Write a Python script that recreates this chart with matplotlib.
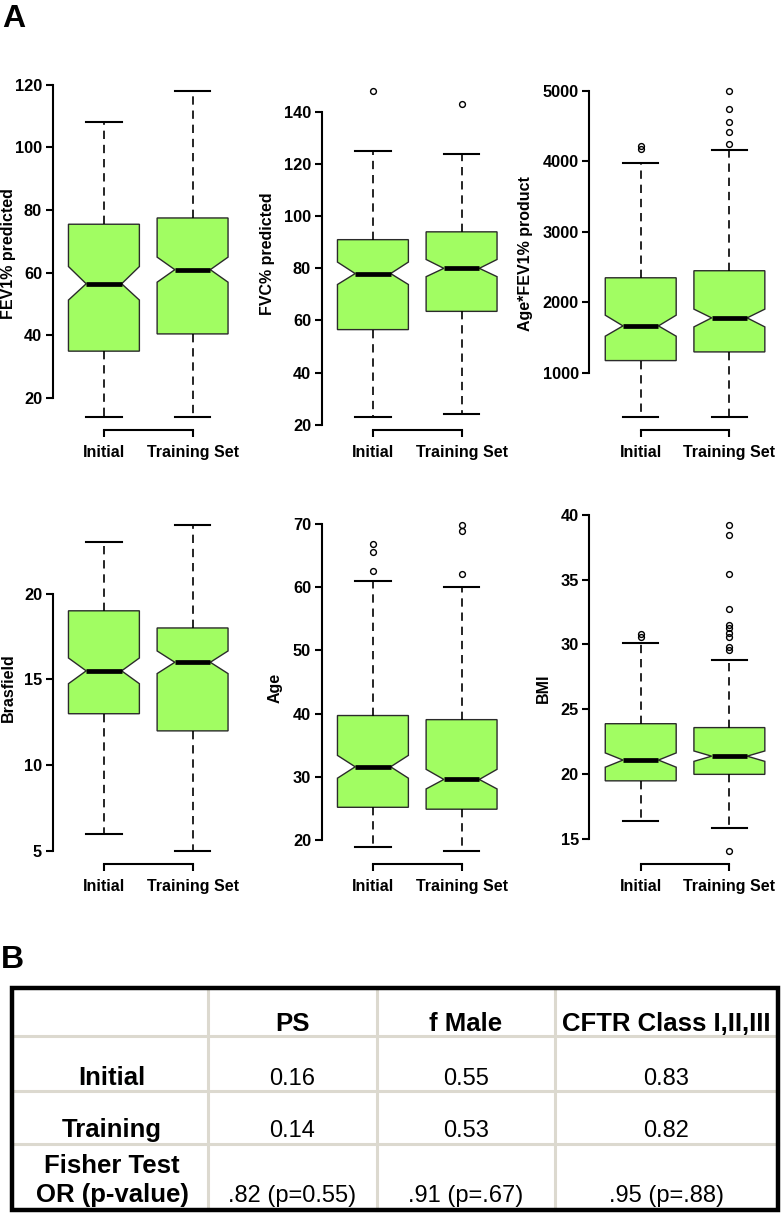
import matplotlib.pyplot as plt

plt.rcParams['font.family'] = ['Liberation Sans', 'DejaVu Sans']

# ---- panel A data ----
group_labels = ['Initial', 'Training Set']
ylabels = ['FEV1% predicted', 'FVC% predicted', 'Age*FEV1% product',
           'Brasfield', 'Age', 'BMI']
yticks = [[20, 40, 60, 80, 100, 120],
          [20, 40, 60, 80, 100, 120, 140],
          [1000, 2000, 3000, 4000, 5000],
          [5, 10, 15, 20],
          [20, 30, 40, 50, 60, 70],
          [15, 20, 25, 30, 35, 40]]

whislo = [[14, 14], [23, 24], [370, 370], [6, 5], [19, 18.3], [16.4, 15.9]]
q1 = [[35, 40.5], [56.5, 63.5], [1170, 1293], [13, 12], [25.2, 24.9], [19.5, 20.0]]
notch_lo = [[51.3, 57], [73.8, 76.8], [1516, 1648], [14.75, 15.34], [29.8, 28.1], [20.55, 21.0]]
med = [[56.5, 61], [78, 80], [1662, 1776], [15.5, 16], [31.6, 29.6], [21.1, 21.4]]
notch_hi = [[62, 65], [82.4, 83.4], [1814, 1900], [16.25, 16.66], [33.4, 31.2], [21.65, 21.8]]
q3 = [[75.5, 77.5], [91, 94], [2345, 2445], [19, 18], [39.7, 39.05], [23.9, 23.6]]
whishi = [[108, 118], [125, 124], [3980, 4160], [23, 24], [61, 60], [30.1, 28.8]]
fliers = [[[], []],
          [[148], [143]],
          [[4170, 4220], [4250, 4420, 4560, 4740, 4995]],
          [[], []],
          [[62.5, 65.6, 66.8], [62.1, 68.8, 69.8]],
          [[30.6, 30.8], [14.1, 29.6, 29.8, 30.6, 30.9, 31.3, 31.5, 32.7, 35.4, 38.4, 39.2]]]

# ---- panel B table ----
col_headers = ['PS', 'f Male', 'CFTR Class I,II,III']
row_labels = ['Initial', 'Training', 'Fisher Test\nOR (p-value)']
initial_vals = ['0.16', '0.55', '0.83']
training_vals = ['0.14', '0.53', '0.82']
fisher_vals = ['.82 (p=0.55)', '.91 (p=.67)', '.95 (p=.88)']

W, H = 782, 1213
fig = plt.figure(figsize=(W / 100, H / 100), dpi=100)

col_left = [52.5, 321.5, 589.3]
row_top = [78, 512]
ax_w, ax_h = 191.5, 352
ylab_off = [44, 54, 64, 44, 46, 46]
green = '#a1fd62'

for i in range(6):
    r, c = divmod(i, 3)
    ax = fig.add_axes([col_left[c] / W, 1 - (row_top[r] + ax_h) / H, ax_w / W, ax_h / H])
    stats = []
    for j in range(2):
        stats.append(dict(med=med[i][j], q1=q1[i][j], q3=q3[i][j],
                          whislo=whislo[i][j], whishi=whishi[i][j],
                          cilo=notch_lo[i][j], cihi=notch_hi[i][j],
                          fliers=fliers[i][j]))
    ax.bxp(stats, positions=[1, 2], widths=0.8, capwidths=0.4,
           shownotches=True, patch_artist=True,
           boxprops=dict(facecolor=green, edgecolor='#2b2b2b', linewidth=1.0),
           medianprops=dict(color='black', linewidth=3.4, solid_capstyle='butt'),
           whiskerprops=dict(color='black', linewidth=1.2, linestyle=(0, (5, 3.5))),
           capprops=dict(color='black', linewidth=1.5),
           flierprops=dict(marker='o', markerfacecolor='none', markeredgecolor='black',
                           markersize=4.2, markeredgewidth=1.0))

    allv = whislo[i] + whishi[i] + [v for f in fliers[i] for v in f]
    lo, hi = min(allv), max(allv)
    pad = 0.04 * (hi - lo)
    ax.set_ylim(lo - pad, hi + pad)
    ax.set_xlim(0.42, 2.58)

    for s in ['top', 'right']:
        ax.spines[s].set_visible(False)
    ax.spines['left'].set_bounds(yticks[i][0], yticks[i][-1])
    ax.spines['bottom'].set_bounds(1, 2)
    for s in ['left', 'bottom']:
        ax.spines[s].set_linewidth(1.5)

    ax.set_yticks(yticks[i])
    ax.set_xticks([1, 2], group_labels)
    ax.tick_params(axis='y', length=5, width=1.5, pad=2.5, labelsize=11.8)
    ax.tick_params(axis='x', length=5, width=1.5, pad=6, labelsize=11.5)
    for lab in ax.get_xticklabels() + ax.get_yticklabels():
        lab.set_fontweight('bold')
    ax.set_ylabel(ylabels[i], fontsize=11.5, fontweight='bold', va='center')
    ax.yaxis.set_label_coords(-ylab_off[i] / ax_w, 0.5)

fig.text(2 / W, 1 - 4 / H, 'A', ha='left', va='top', fontsize=23, fontweight='bold')
fig.text(1 / W, 1 - 945 / H, 'B', ha='left', va='top', fontsize=23, fontweight='bold')

# table drawn on a full-figure overlay in pixel units
tax = fig.add_axes([0, 0, 1, 1])
tax.set_xlim(0, W)
tax.set_ylim(H, 0)
tax.axis('off')

col_x = [12, 208, 377, 555, 778]
row_y = [988, 1036, 1091, 1144, 1210]
grid_c = '#dcd9cf'
for x in col_x[1:-1]:
    tax.plot([x, x], [row_y[0], row_y[-1]], color=grid_c, lw=2.2, zorder=1)
for y in row_y[1:-1]:
    tax.plot([col_x[0], col_x[-1]], [y, y], color=grid_c, lw=2.2, zorder=1)
tax.add_patch(plt.Rectangle((col_x[0], row_y[0]), col_x[-1] - col_x[0], row_y[-1] - row_y[0],
                            fill=False, edgecolor='black', lw=3.2, zorder=3))

col_cx = [(col_x[k + 1] + col_x[k + 2]) / 2 for k in range(3)]
label_cx = 112
for k, h in enumerate(col_headers):
    tax.text(col_cx[k], 1031, h, ha='center', va='baseline', fontsize=18.5, fontweight='bold')

tax.text(label_cx, 1085, row_labels[0], ha='center', va='baseline', fontsize=18.5, fontweight='bold')
tax.text(label_cx, 1137, row_labels[1], ha='center', va='baseline', fontsize=18.5, fontweight='bold')
fisher_lines = row_labels[2].split('\n')
tax.text(label_cx, 1173, fisher_lines[0], ha='center', va='baseline', fontsize=18.5, fontweight='bold')
tax.text(label_cx, 1202, fisher_lines[1], ha='center', va='baseline', fontsize=18.5, fontweight='bold')

for k in range(3):
    tax.text(col_cx[k], 1085, initial_vals[k], ha='center', va='baseline', fontsize=17)
    tax.text(col_cx[k], 1137, training_vals[k], ha='center', va='baseline', fontsize=17)
    tax.text(col_cx[k], 1202, fisher_vals[k], ha='center', va='baseline', fontsize=17)

fig.savefig('out.png', dpi=100)
